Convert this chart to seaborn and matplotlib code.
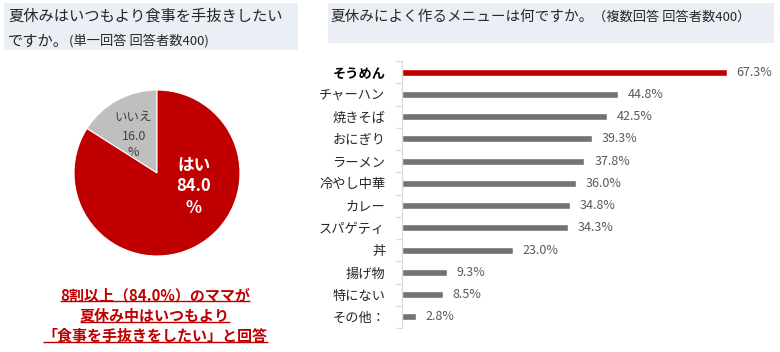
import matplotlib
matplotlib.use("Agg")
import matplotlib.pyplot as plt
import seaborn as sns
import pandas as pd
from matplotlib.patches import Rectangle

# ---------------- data ----------------
pie_labels = ["いいえ", "はい"]
pie_values = [16.0, 84.0]

menus = ["そうめん", "チャーハン", "焼きそば", "おにぎり", "ラーメン", "冷やし中華",
         "カレー", "スパゲティ", "丼", "揚げ物", "特にない", "その他："]
menu_values = [67.3, 44.8, 42.5, 39.3, 37.8, 36.0, 34.8, 34.3, 23.0, 9.3, 8.5, 2.8]

title_left_1 = "夏休みはいつもより食事を手抜きしたい"
title_left_2 = "ですか。"
title_left_sub = "(単一回答 回答者数400)"
title_right = "夏休みによく作るメニューは何ですか。"
title_right_sub = "（複数回答 回答者数400）"
note_left = ["8割以上（84.0%）のママが", "夏休み中はいつもより", "「食事を手抜きをしたい」と回答"]
note_right = ["夏の定番", "「そうめん」が第1位"]

# ---------------- style ----------------
sns.set_theme(style="white")
plt.rcParams["font.family"] = ["Noto Sans CJK JP", "DejaVu Sans"]

RED = "#C00000"
GREY_BAR = "#767171"
GREY_PIE = "#BFBFBF"
TXT = "#262626"
W, H = 780, 352

fig = plt.figure(figsize=(7.8, 3.52), dpi=100)
fig.patch.set_facecolor("white")

# overlay axes in pixel coordinates
ov = fig.add_axes([0, 0, 1, 1])
ov.set_xlim(0, W)
ov.set_ylim(H, 0)
ov.axis("off")

# title backgrounds
ov.add_patch(Rectangle((4, 3), 294, 47, facecolor="#EAEEF5", edgecolor="none"))
ov.add_patch(Rectangle((328, 3), 446, 40, facecolor="#EAEEF5", edgecolor="none"))

ov.text(8, 16, title_left_1, fontsize=11, color=TXT, va="center", ha="left")
t2 = ov.text(8, 41, title_left_2, fontsize=11, color=TXT, va="center", ha="left")
ov.annotate(title_left_sub, xy=(1, 0.5), xycoords=t2, fontsize=9.5, color=TXT,
            va="center", ha="left")
t3 = ov.text(330, 17, title_right, fontsize=10.5, color=TXT, va="center", ha="left")
ov.annotate(title_right_sub, xy=(1, 0.5), xycoords=t3, fontsize=9.5, color=TXT,
            va="center", ha="left")

# ---------------- pie ----------------
cx, cy, r = 157, 173, 83
axp = fig.add_axes([(cx - r) / W, 1 - (cy + r) / H, 2 * r / W, 2 * r / H])
axp.pie(pie_values, colors=[GREY_PIE, RED], startangle=90, counterclock=True,
        wedgeprops=dict(edgecolor="white", linewidth=0.8))
axp.set_xlim(-1, 1)
axp.set_ylim(-1, 1)
axp.set_aspect("equal")

def pt(px, py):
    return (px - cx) / r, (cy - py) / r

for txt, (px, py) in zip([pie_labels[1], f"{pie_values[1]:.1f}", "%"],
                         [(194, 166), (194, 186), (194, 208)]):
    axp.text(*pt(px, py), txt, color="white", fontsize=12, fontweight="bold",
             ha="center", va="center")
for txt, (px, py) in zip([pie_labels[0], f"{pie_values[0]:.1f}", "%"],
                         [(133, 117), (134, 136), (133, 153)]):
    axp.text(*pt(px, py), txt, color="#404040", fontsize=9,
             ha="center", va="center")

# ---------------- bar chart ----------------
x0, ytop, ybot = 402, 61, 328
axb = fig.add_axes([x0 / W, 1 - ybot / H, 362 / W, (ybot - ytop) / H])
df = pd.DataFrame({"menu": menus, "value": menu_values})
palette = {m: (RED if i == 0 else GREY_BAR) for i, m in enumerate(menus)}
sns.barplot(data=df, x="value", y="menu", hue="menu", palette=palette,
            legend=False, width=0.31, orient="h", ax=axb, saturation=1)
axb.set_xlim(0, 75)
axb.set_ylim(len(menus) - 0.5, -0.5)
axb.set_xlabel("")
axb.set_ylabel("")
axb.set_xticks([])
for s in ["top", "right", "bottom"]:
    axb.spines[s].set_visible(False)
axb.spines["left"].set_color("#D9D9D9")
axb.spines["left"].set_linewidth(0.8)
axb.tick_params(axis="y", which="major", length=0, pad=12, labelsize=9.5, labelcolor=TXT)
axb.set_yticks([i + 0.5 for i in range(-1, len(menus))], minor=True)
axb.tick_params(axis="y", which="minor", length=4, color="#D9D9D9", width=0.8, left=True)
for i, lab in enumerate(axb.get_yticklabels()):
    if i == 0:
        lab.set_fontweight("bold")
        lab.set_color("black")

for i, v in enumerate(menu_values):
    axb.annotate(f"{v:.1f}%", xy=(v, i), xytext=(7, 0), textcoords="offset points",
                 va="center", ha="left", fontsize=9, color="#595959")

# ---------------- notes ----------------
notes = []
for txt, y in zip(note_left, [295, 316, 336]):
    notes.append(ov.text(155, y, txt, fontsize=10.8, fontweight="bold", color=RED,
                         ha="center", va="center"))
for txt, y, fs in zip(note_right, [297, 318], [12.5, 12.5]):
    notes.append(ov.text(661, y, txt, fontsize=fs, fontweight="bold", color=RED,
                         ha="center", va="center"))

fig.canvas.draw()
renderer = fig.canvas.get_renderer()
inv = ov.transData.inverted()
for t in notes:
    bb = t.get_window_extent(renderer)
    (xa, ya), (xb, yb) = inv.transform([[bb.x0, bb.y0], [bb.x1, bb.y1]])
    yl = ya - 2.5
    ov.plot([xa, xb], [yl, yl], color=RED, linewidth=1.0, solid_capstyle="butt")

fig.savefig("out.png", dpi=100, facecolor="white")
